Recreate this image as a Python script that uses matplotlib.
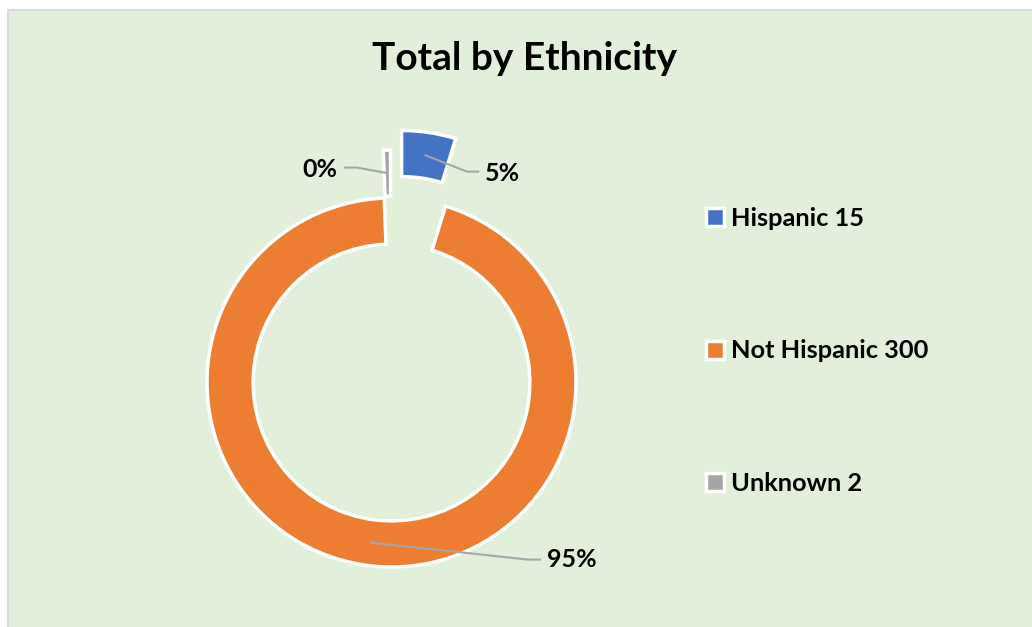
import numpy as np
import matplotlib
matplotlib.use("Agg")
import matplotlib.pyplot as plt
from matplotlib.patches import Rectangle

plt.rcParams["font.family"] = ["Lato", "DejaVu Sans"]
plt.rcParams["font.weight"] = "bold"

# data
categories = ["Hispanic", "Not Hispanic", "Unknown"]
counts = [15, 300, 2]
pct_labels = ["5%", "95%", "0%"]
colors = ["#4472C4", "#ED7D31", "#A5A5A5"]
explode = [0.37, 0.0, 0.26]

W, H = 1032, 627
fig = plt.figure(figsize=(W / 100, H / 100), dpi=100, facecolor="white")

# chart area background
fig.patches.append(
    Rectangle((8 / W, -0.1), 1.2, 1 - 10 / H + 0.1, transform=fig.transFigure,
              facecolor="#E2EFDA", edgecolor="#D9D9D9", linewidth=1.5, zorder=-5)
)

# axes sized so radius 1 == 184.5 px, centre at (391.5, 382.5) px
R = 184.5
cx, cy = 391.5, H - 382.5
half = 1.5 * R
ax = fig.add_axes([(cx - half) / W, (cy - half) / H, 2 * half / W, 2 * half / H])

wedges, _ = ax.pie(
    counts,
    colors=colors,
    explode=explode,
    startangle=90,
    counterclock=False,
    radius=1.0,
    wedgeprops=dict(width=0.25, edgecolor="white", linewidth=2.5),
)
ax.set_xlim(-1.5, 1.5)
ax.set_ylim(-1.5, 1.5)
ax.axis("off")

# percentage labels with leader lines
label_pos = [(0.603, 1.133), (0.978, -0.959), (-0.388, 1.152)]
elbow = [(0.409, 1.143), (0.740, -0.960), (-0.187, 1.165)]
ends = [(0.470, 1.143), (0.805, -0.960), (-0.252, 1.165)]
for w, txt, lp, el, en in zip(wedges, pct_labels, label_pos, elbow, ends):
    mid = np.deg2rad((w.theta1 + w.theta2) / 2)
    rm = w.r - w.width / 2
    ax0 = w.center[0] + rm * np.cos(mid)
    ay0 = w.center[1] + rm * np.sin(mid)
    ax.plot([ax0, el[0], en[0]], [ay0, el[1], en[1]], color="#A6A6A6",
            linewidth=1.5, zorder=3, clip_on=False)
    ax.text(lp[0], lp[1], txt, ha="center", va="center", fontsize=18,
            fontweight="bold", color="black", zorder=4)

fig.text(524 / W, 1 - 58 / H, "Total by Ethnicity", ha="center", va="center",
         fontsize=28, fontweight="bold", color="black")

leg_labels = [f"{c} {n}" for c, n in zip(categories, counts)]
fig.legend(wedges, leg_labels, loc="center left",
           bbox_to_anchor=(706 / W, 1 - 351 / H), frameon=False,
           handlelength=0.7, handleheight=0.7,
           handletextpad=0.3, labelspacing=4.3, borderpad=0, borderaxespad=0,
           prop=dict(weight="bold", size=18.3))

fig.savefig("out.png", dpi=100, facecolor=fig.get_facecolor())
